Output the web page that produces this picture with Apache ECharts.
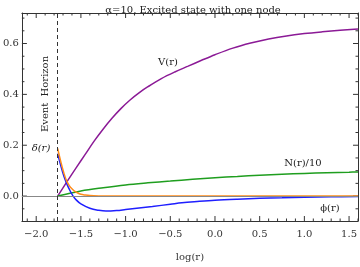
<!DOCTYPE html>
<html>
<head>
<meta charset="utf-8">
<script src="https://cdn.jsdelivr.net/npm/echarts@6/dist/echarts.min.js"></script>
<style>
  html, body { margin: 0; padding: 0; background: #fff; }
  #main { width: 360px; height: 267px; }
</style>
</head>
<body>
<div id="main"></div>
<script>
// log(r) sample points and curve values
var horizon = -1.76;

var vLogR = [-1.76, -1.65, -1.55, -1.45, -1.35, -1.25, -1.15, -1.05, -0.95, -0.85, -0.75, -0.6, -0.45, -0.3, -0.15, 0, 0.2, 0.4, 0.6, 0.8, 1.0, 1.2, 1.4, 1.6];
var vVals = [0, 0.06, 0.113, 0.165, 0.217, 0.264, 0.307, 0.345, 0.378, 0.406, 0.43, 0.462, 0.488, 0.511, 0.534, 0.556, 0.582, 0.602, 0.618, 0.63, 0.639, 0.646, 0.652, 0.657];

var nLogR = [-1.76, -1.5, -1.25, -1.0, -0.75, -0.5, -0.25, 0, 0.25, 0.5, 0.75, 1.0, 1.25, 1.5, 1.6];
var nVals = [0, 0.02, 0.033, 0.044, 0.052, 0.059, 0.066, 0.072, 0.077, 0.082, 0.086, 0.089, 0.092, 0.094, 0.095];

var dLogR = [-1.76, -1.72, -1.69, -1.66, -1.62, -1.58, -1.54, -1.5, -1.45, -1.4, -1.3, -1.2, -1.0, 0, 1.0, 1.6];
var dVals = [0.187, 0.128, 0.09, 0.06, 0.036, 0.022, 0.013, 0.007, 0.004, 0.002, 0.0005, 0, 0, 0, 0, 0];

var pLogR = [-1.76, -1.72, -1.69, -1.66, -1.62, -1.587, -1.55, -1.5, -1.4, -1.3, -1.22, -1.1, -1.0, -0.85, -0.7, -0.5, -0.37, -0.2, 0, 0.25, 0.5, 0.75, 1.0, 1.3, 1.6];
var pVals = [0.167, 0.113, 0.078, 0.05, 0.02, 0, -0.016, -0.031, -0.048, -0.056, -0.059, -0.057, -0.053, -0.047, -0.041, -0.032, -0.026, -0.021, -0.016, -0.012, -0.009, -0.007, -0.005, -0.003, -0.002];

var xMajor = [-2.0, -1.5, -1.0, -0.5, 0.0, 0.5, 1.0, 1.5];
var yMajor = [0.0, 0.2, 0.4, 0.6];

var FONT = 'DejaVu Serif';
var xMin = -2.16, xMax = 1.6, yMin = -0.098, yMax = 0.72;

function steps(a, b, d) {
  var out = [];
  for (var k = Math.ceil(a / d - 1e-9); k * d <= b + 1e-9; k++) out.push(+(k * d).toFixed(3));
  return out;
}
function isMajor(v, d) { return Math.abs(v / d - Math.round(v / d)) < 1e-6; }

// frame ticks, drawn as thin rect symbols sitting on the frame and pointing inwards
var tickData = [];
steps(xMin, xMax, 0.1).forEach(function (v) {
  var len = isMajor(v, 0.5) ? 5 : 2.5;
  tickData.push({ value: [v, yMin], symbolSize: [1, len], symbolOffset: [0, -len / 2] });
  tickData.push({ value: [v, yMax], symbolSize: [1, len], symbolOffset: [0, len / 2] });
});
steps(yMin, yMax, 0.05).forEach(function (v) {
  var len = isMajor(v, 0.2) ? 5 : 2.5;
  tickData.push({ value: [xMin, v], symbolSize: [len, 1], symbolOffset: [len / 2, 0] });
  tickData.push({ value: [xMax, v], symbolSize: [len, 1], symbolOffset: [-len / 2, 0] });
});

function pairs(xs, ys) {
  return xs.map(function (x, i) { return [x, ys[i]]; });
}

function line(name, xs, ys, color) {
  return {
    name: name, type: 'line', xAxisIndex: 0, yAxisIndex: 0,
    data: pairs(xs, ys), smooth: 0.35, showSymbol: false, symbol: 'none',
    lineStyle: { color: color, width: 1.5 }, silent: true
  };
}

var frameLine = { show: true, onZero: false, lineStyle: { color: '#333', width: 1 } };

var chart = echarts.init(document.getElementById('main'));
chart.setOption({
  backgroundColor: '#fff',
  animation: false,
  title: {
    text: '\u03b1=10, Excited state with one node',
    left: 188, top: 0, textAlign: 'center',
    textStyle: { fontFamily: FONT, fontSize: 10, fontWeight: 'normal', color: '#222' }
  },
  grid: { left: 18, right: 2, top: 13, bottom: 44 },
  xAxis: [
    {
      type: 'value', position: 'bottom', min: xMin, max: xMax,
      axisLine: frameLine, axisTick: { show: false }, splitLine: { show: false },
      axisLabel: {
        customValues: xMajor, fontFamily: FONT, fontSize: 10, color: '#333', margin: 8,
        formatter: function (v) { return v.toFixed(1).replace('-', '\u2212'); }
      },
      name: 'log(r)', nameLocation: 'middle', nameGap: 31,
      nameTextStyle: { fontFamily: FONT, fontSize: 10, color: '#333' }
    },
    {
      type: 'value', position: 'top', min: xMin, max: xMax,
      axisLine: frameLine, axisTick: { show: false }, axisLabel: { show: false }, splitLine: { show: false }
    }
  ],
  yAxis: [
    {
      type: 'value', position: 'left', min: yMin, max: yMax,
      axisLine: frameLine, axisTick: { show: false }, splitLine: { show: false },
      axisLabel: {
        customValues: yMajor, fontFamily: FONT, fontSize: 10, color: '#333', margin: 3,
        formatter: function (v) { return v.toFixed(1); }
      }
    },
    {
      type: 'value', position: 'right', min: yMin, max: yMax,
      axisLine: frameLine, axisTick: { show: false }, axisLabel: { show: false }, splitLine: { show: false }
    }
  ],
  series: [
    {
      name: 'guides', type: 'line', data: [], xAxisIndex: 0, yAxisIndex: 0, silent: true,
      markLine: {
        symbol: 'none', silent: true, animation: false, label: { show: false },
        data: [
          { yAxis: 0, lineStyle: { color: '#888', width: 1, type: 'solid' } },
          { xAxis: horizon, lineStyle: { color: '#333', width: 1, type: [4, 3] } }
        ]
      }
    },
    line('V(r)', vLogR, vVals, '#8b1a96'),
    line('N(r)/10', nLogR, nVals, '#1f9e1f'),
    line('\u03d5(r)', pLogR, pVals, '#1f1fff'),
    line('\u03b4(r)', dLogR, dVals, '#ff8c1a'),
    {
      name: 'ticks', type: 'scatter', symbol: 'rect', clip: false, silent: true,
      data: tickData,
      itemStyle: { color: '#333', opacity: 1 }
    }
  ],
  graphic: [
    { type: 'text', x: 168, y: 62, style: { text: 'V(r)', font: '10px ' + FONT, fill: '#222', align: 'center', verticalAlign: 'middle' } },
    { type: 'text', x: 303, y: 163, style: { text: 'N(r)/10', font: '10px ' + FONT, fill: '#222', align: 'center', verticalAlign: 'middle' } },
    { type: 'text', x: 41, y: 148, style: { text: '\u03b4(r)', font: 'italic 10px ' + FONT, fill: '#222', align: 'center', verticalAlign: 'middle' } },
    { type: 'text', x: 330, y: 208, style: { text: '\u03d5(r)', font: '10px ' + FONT, fill: '#222', align: 'center', verticalAlign: 'middle' } },
    { type: 'text', x: 45, y: 94, rotation: Math.PI / 2, style: { text: 'Event  Horizon', font: '10px ' + FONT, fill: '#222', align: 'center', verticalAlign: 'middle' } }
  ]
});
</script>
</body>
</html>
